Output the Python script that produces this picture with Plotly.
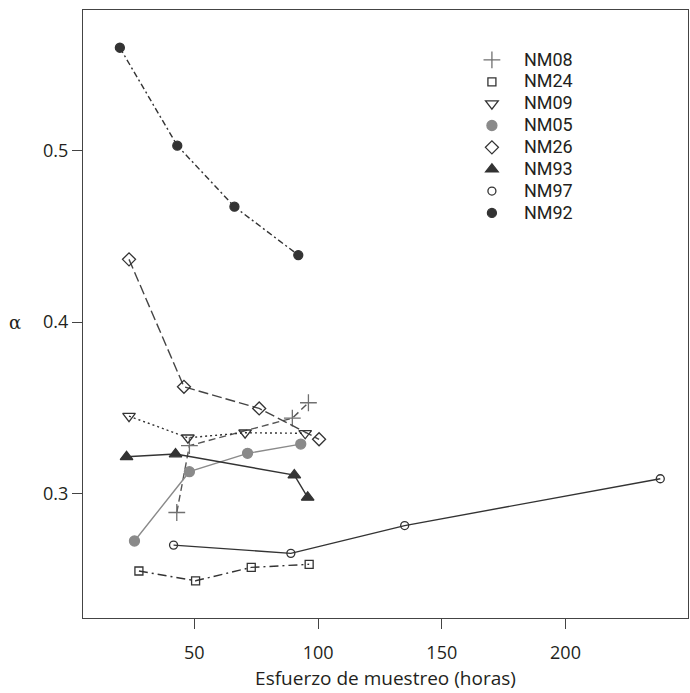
import plotly.graph_objects as go

# ---- data (x = sampling effort in hours, y = alpha) ----
names = ["NM08", "NM24", "NM09", "NM05", "NM26", "NM93", "NM97", "NM92"]

nm08_x = [42.9, 48.0, 89.6, 96.1]
nm08_y = [0.289, 0.328, 0.344, 0.353]

nm24_x = [27.6, 50.5, 73.0, 96.4]
nm24_y = [0.2549, 0.2492, 0.2570, 0.2588]

nm09_x = [23.6, 47.4, 70.5, 94.8]
nm09_y = [0.3452, 0.3326, 0.3355, 0.3352]

nm05_x = [25.8, 48.0, 71.5, 93.0]
nm05_y = [0.2724, 0.3128, 0.3235, 0.3289]

nm26_x = [23.6, 45.8, 76.2, 100.4]
nm26_y = [0.4366, 0.3623, 0.3497, 0.3317]

nm93_x = [22.6, 42.4, 90.4, 95.8]
nm93_y = [0.3215, 0.3231, 0.3108, 0.2978]

nm97_x = [41.6, 89.0, 135.0, 238.3]
nm97_y = [0.2700, 0.2652, 0.2814, 0.3087]

nm92_x = [19.9, 43.1, 66.2, 92.0]
nm92_y = [0.5600, 0.5029, 0.4673, 0.4391]

x_ticks = [50, 100, 150, 200]
y_ticks = [0.3, 0.4, 0.5]

DARK = "#333333"
GRAY = "#8a8a8a"
MID = "#555555"

# name, x, y, symbol, size, marker colour, dash, line colour
series = [
    ("NM08", nm08_x, nm08_y, "cross-thin-open", 12, "#707070", "7px,4px", MID),
    ("NM24", nm24_x, nm24_y, "square-open", 8, DARK, "9px,4px,2px,4px", DARK),
    ("NM09", nm09_x, nm09_y, "triangle-down-open", 11, DARK, "2px,3px", DARK),
    ("NM05", nm05_x, nm05_y, "circle", 10, GRAY, "solid", GRAY),
    ("NM26", nm26_x, nm26_y, "diamond-open", 10, DARK, "10px,4px", "#444444"),
    ("NM93", nm93_x, nm93_y, "triangle-up", 11, DARK, "solid", DARK),
    ("NM97", nm97_x, nm97_y, "circle-open", 8, DARK, "solid", DARK),
    ("NM92", nm92_x, nm92_y, "circle", 9, DARK, "6px,3px,2px,3px", DARK),
]

fig = go.Figure()
for name, xs, ys, sym, size, mcol, dash, lcol in series:
    fig.add_trace(go.Scatter(
        x=xs, y=ys, mode="lines+markers", showlegend=False,
        line=dict(color=lcol, width=1.4, dash=dash),
        marker=dict(symbol=sym, size=size, color=mcol, line=dict(color=mcol, width=1.3)),
    ))
# legend entries (markers only, as in the reference)
for name, xs, ys, sym, size, mcol, dash, lcol in series:
    fig.add_trace(go.Scatter(
        x=[None], y=[None], mode="markers",
        name='<span style="font-size:18px">' + name + '</span>', showlegend=True,
        marker=dict(symbol=sym, size=size, color=mcol, line=dict(color=mcol, width=1.3)),
    ))

axis_common = dict(
    showgrid=False, zeroline=False, showline=True, mirror=True,
    linecolor="#444444", linewidth=1.3, ticks="outside", ticklen=10,
    tickcolor="#444444", tickwidth=1.3,
    tickfont=dict(family="Open Sans", size=18, color="#231f20"),
)

fig.update_layout(
    width=690, height=693,
    margin=dict(l=83, r=2, t=10, b=75),
    plot_bgcolor="white", paper_bgcolor="white",
    font=dict(family="Open Sans", color="#231f20"),
    xaxis=dict(range=[5, 249.5], tickvals=x_ticks, ticklabelstandoff=8, **axis_common,
               title=dict(text="Esfuerzo de muestreo (horas)",
                          font=dict(family="Open Sans", size=19, color="#231f20"),
                          standoff=8)),
    yaxis=dict(range=[0.2275, 0.582], tickvals=y_ticks, tickformat=".1f", **axis_common),
    legend=dict(x=0.623, y=0.944, xanchor="left", yanchor="top",
                bgcolor="rgba(0,0,0,0)", borderwidth=0, itemwidth=54,
                font=dict(family="Roboto", size=14.5, color="#231f20"),
                tracegroupgap=0),
    annotations=[dict(text="α", xref="paper", yref="y", x=-0.112, y=0.4,
                      xanchor="center", yanchor="middle", showarrow=False,
                      font=dict(family="DejaVu Serif", size=18, color="#231f20"))],
)

fig.write_html("out.html")
